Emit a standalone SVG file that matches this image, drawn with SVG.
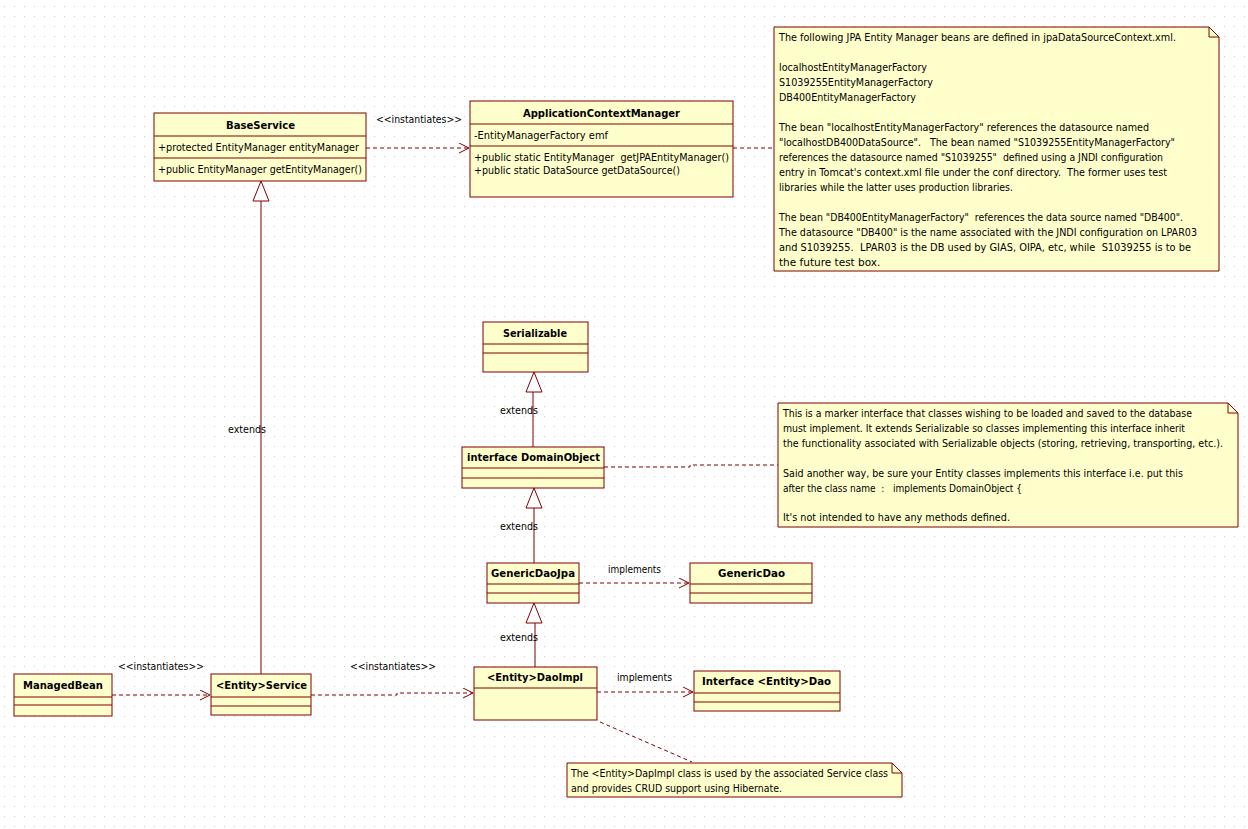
<svg xmlns="http://www.w3.org/2000/svg" width="1248" height="829" viewBox="0 0 1248 829">
<style>
text{font-family:"DejaVu Sans","Liberation Sans",sans-serif;font-size:10.5px;fill:#000}
.t{font-weight:bold}
.c{fill:#FFFFCC;stroke:#800000;stroke-width:1}
.s{stroke:#800000;stroke-width:1}
.d{fill:none;stroke:#800000;stroke-width:1;stroke-dasharray:4 3}
.g{fill:none;stroke:#800000;stroke-width:1}
.tri{fill:#fff;stroke:#800000;stroke-width:1}
</style>
<defs>
<pattern id="dots" width="10" height="10" patternUnits="userSpaceOnUse">
<rect x="4" y="6" width="1" height="1" fill="#c8c8c8"/>
</pattern>
<marker id="open" markerUnits="userSpaceOnUse" markerWidth="12" markerHeight="12" refX="10" refY="5" orient="auto">
<path d="M0,0 L10,5 L0,10" fill="none" stroke="#800000" stroke-width="1"/>
</marker>
</defs>
<rect width="1248" height="829" fill="#fff"/>
<rect width="1248" height="829" fill="url(#dots)"/>

<g id="connectors">
<line class="d" x1="366" y1="148" x2="469" y2="148" marker-end="url(#open)"/>
<text x="376" y="123" textLength="86" lengthAdjust="spacingAndGlyphs">&lt;&lt;instantiates&gt;&gt;</text>
<line class="d" x1="733" y1="148" x2="774" y2="148"/>
<line class="g" x1="261" y1="674" x2="261" y2="201"/>
<polygon class="tri" points="261,181 253,201 269,201"/>
<text x="228" y="433" textLength="38" lengthAdjust="spacingAndGlyphs">extends</text>
<line class="g" x1="533" y1="447" x2="533" y2="392"/>
<polygon class="tri" points="534,372 526,392 542,392"/>
<text x="500" y="414" textLength="38" lengthAdjust="spacingAndGlyphs">extends</text>
<line class="g" x1="534" y1="563" x2="534" y2="508"/>
<polygon class="tri" points="534,488 526,508 542,508"/>
<text x="500" y="530" textLength="38" lengthAdjust="spacingAndGlyphs">extends</text>
<line class="g" x1="535" y1="667" x2="535" y2="623"/>
<polygon class="tri" points="534,603 526,623 542,623"/>
<text x="500" y="641" textLength="38" lengthAdjust="spacingAndGlyphs">extends</text>
<polyline class="d" points="604,467 690,467 690,465 778,465"/>
<line class="d" x1="579" y1="583" x2="689" y2="583" marker-end="url(#open)"/>
<text x="608" y="573" textLength="53" lengthAdjust="spacingAndGlyphs">implements</text>
<line class="d" x1="597" y1="692" x2="693" y2="692" marker-end="url(#open)"/>
<text x="617" y="681" textLength="55" lengthAdjust="spacingAndGlyphs">implements</text>
<line class="d" x1="600" y1="722" x2="692" y2="762"/>
<line class="d" x1="112" y1="695" x2="210" y2="695" marker-end="url(#open)"/>
<text x="118" y="670" textLength="86" lengthAdjust="spacingAndGlyphs">&lt;&lt;instantiates&gt;&gt;</text>
<polyline class="d" points="311,695 397,695 397,693 473,693" marker-end="url(#open)"/>
<text x="350" y="670" textLength="86" lengthAdjust="spacingAndGlyphs">&lt;&lt;instantiates&gt;&gt;</text>
</g>

<g id="BaseService">
<rect class="c" x="154" y="113" width="212" height="68"/>
<line class="s" x1="154" y1="136" x2="366" y2="136"/>
<line class="s" x1="154" y1="158" x2="366" y2="158"/>
<text class="t" x="226" y="129" textLength="69" lengthAdjust="spacingAndGlyphs">BaseService</text>
<text x="158" y="151" textLength="201" lengthAdjust="spacingAndGlyphs">+protected EntityManager entityManager</text>
<text x="158" y="173" textLength="204" lengthAdjust="spacingAndGlyphs">+public EntityManager getEntityManager()</text>
</g>

<g id="ApplicationContextManager">
<rect class="c" x="470" y="101" width="263" height="96"/>
<line class="s" x1="470" y1="124" x2="733" y2="124"/>
<line class="s" x1="470" y1="146" x2="733" y2="146"/>
<text class="t" x="523" y="117" textLength="157" lengthAdjust="spacingAndGlyphs">ApplicationContextManager</text>
<text x="474" y="139" textLength="134" lengthAdjust="spacingAndGlyphs">-EntityManagerFactory emf</text>
<text x="474" y="161" textLength="255" lengthAdjust="spacingAndGlyphs" xml:space="preserve">+public static EntityManager  getJPAEntityManager()</text>
<text x="474" y="174" textLength="206" lengthAdjust="spacingAndGlyphs">+public static DataSource getDataSource()</text>
</g>

<g id="note1">
<path class="c" d="M774,27 H1209 L1219,37 V271 H774 Z"/>
<path class="g" d="M1209,27 V37 H1219"/>
<text x="779" y="41" textLength="397" lengthAdjust="spacingAndGlyphs">The following JPA Entity Manager beans are defined in jpaDataSourceContext.xml.</text>
<text x="779" y="71" textLength="148" lengthAdjust="spacingAndGlyphs">localhostEntityManagerFactory</text>
<text x="779" y="86" textLength="154" lengthAdjust="spacingAndGlyphs">S1039255EntityManagerFactory</text>
<text x="779" y="101" textLength="137" lengthAdjust="spacingAndGlyphs">DB400EntityManagerFactory</text>
<text x="779" y="131" textLength="370" lengthAdjust="spacingAndGlyphs">The bean "localhostEntityManagerFactory" references the datasource named</text>
<text x="779" y="146" textLength="396" lengthAdjust="spacingAndGlyphs" xml:space="preserve">"localhostDB400DataSource".   The bean named "S1039255EntityManagerFactory"</text>
<text x="779" y="161" textLength="384" lengthAdjust="spacingAndGlyphs" xml:space="preserve">references the datasource named "S1039255"  defined using a JNDI configuration</text>
<text x="779" y="176" textLength="388" lengthAdjust="spacingAndGlyphs" xml:space="preserve">entry in Tomcat's context.xml file under the conf directory.  The former uses test</text>
<text x="779" y="191" textLength="234" lengthAdjust="spacingAndGlyphs">libraries while the latter uses production libraries.</text>
<text x="779" y="221" textLength="404" lengthAdjust="spacingAndGlyphs" xml:space="preserve">The bean "DB400EntityManagerFactory"  references the data source named "DB400".</text>
<text x="779" y="236" textLength="418" lengthAdjust="spacingAndGlyphs">The datasource "DB400" is the name associated with the JNDI configuration on LPAR03</text>
<text x="779" y="251" textLength="412" lengthAdjust="spacingAndGlyphs" xml:space="preserve">and S1039255.  LPAR03 is the DB used by GIAS, OIPA, etc, while  S1039255 is to be</text>
<text x="779" y="266">the future test box.</text>
</g>

<g id="Serializable">
<rect class="c" x="483" y="322" width="105" height="50"/>
<line class="s" x1="483" y1="344" x2="588" y2="344"/>
<line class="s" x1="483" y1="353" x2="588" y2="353"/>
<text class="t" x="503" y="337" textLength="64" lengthAdjust="spacingAndGlyphs">Serializable</text>
</g>

<g id="DomainObject">
<rect class="c" x="462" y="447" width="142" height="41"/>
<line class="s" x1="462" y1="468" x2="604" y2="468"/>
<line class="s" x1="462" y1="478" x2="604" y2="478"/>
<text class="t" x="467" y="461" textLength="133" lengthAdjust="spacingAndGlyphs">interface DomainObject</text>
</g>

<g id="note2">
<path class="c" d="M778,403 H1228 L1238,413 V527 H778 Z"/>
<path class="g" d="M1228,403 V413 H1238"/>
<text x="783" y="417" textLength="409" lengthAdjust="spacingAndGlyphs">This is a marker interface that classes wishing to be loaded and saved to the database</text>
<text x="783" y="432" textLength="402" lengthAdjust="spacingAndGlyphs">must implement. It extends Serializable so classes implementing this interface inherit</text>
<text x="783" y="447" textLength="440" lengthAdjust="spacingAndGlyphs">the functionality associated with Serializable objects (storing, retrieving, transporting, etc.).</text>
<text x="783" y="477" textLength="400" lengthAdjust="spacingAndGlyphs">Said another way, be sure your Entity classes implements this interface i.e. put this</text>
<text x="783" y="492" textLength="239" lengthAdjust="spacingAndGlyphs" xml:space="preserve">after the class name  :   implements DomainObject {</text>
<text x="783" y="521" textLength="227" lengthAdjust="spacingAndGlyphs">It's not intended to have any methods defined.</text>
</g>

<g id="GenericDaoJpa">
<rect class="c" x="487" y="563" width="92" height="40"/>
<line class="s" x1="487" y1="584" x2="579" y2="584"/>
<line class="s" x1="487" y1="593" x2="579" y2="593"/>
<text class="t" x="491" y="577" textLength="84" lengthAdjust="spacingAndGlyphs">GenericDaoJpa</text>
</g>

<g id="GenericDao">
<rect class="c" x="690" y="563" width="122" height="40"/>
<line class="s" x1="690" y1="584" x2="812" y2="584"/>
<line class="s" x1="690" y1="593" x2="812" y2="593"/>
<text class="t" x="718" y="577" textLength="67" lengthAdjust="spacingAndGlyphs">GenericDao</text>
</g>

<g id="EntityDaoImpl">
<rect class="c" x="474" y="667" width="123" height="53"/>
<line class="s" x1="474" y1="688" x2="597" y2="688"/>
<text class="t" x="487" y="681" textLength="96" lengthAdjust="spacingAndGlyphs">&lt;Entity&gt;DaoImpl</text>
</g>

<g id="EntityDao">
<rect class="c" x="694" y="671" width="146" height="40"/>
<line class="s" x1="694" y1="693" x2="840" y2="693"/>
<line class="s" x1="694" y1="702" x2="840" y2="702"/>
<text class="t" x="702" y="685" textLength="129" lengthAdjust="spacingAndGlyphs">Interface &lt;Entity&gt;Dao</text>
</g>

<g id="ManagedBean">
<rect class="c" x="14" y="674" width="98" height="42"/>
<line class="s" x1="14" y1="697" x2="112" y2="697"/>
<line class="s" x1="14" y1="705" x2="112" y2="705"/>
<text class="t" x="23" y="689" textLength="80" lengthAdjust="spacingAndGlyphs">ManagedBean</text>
</g>

<g id="EntityService">
<rect class="c" x="211" y="674" width="100" height="41"/>
<line class="s" x1="211" y1="697" x2="311" y2="697"/>
<line class="s" x1="211" y1="706" x2="311" y2="706"/>
<text class="t" x="216" y="689" textLength="91" lengthAdjust="spacingAndGlyphs">&lt;Entity&gt;Service</text>
</g>

<g id="note3">
<path class="c" d="M567,763 H892 L902,773 V797 H567 Z"/>
<path class="g" d="M892,763 V773 H902"/>
<text x="571" y="777" textLength="317" lengthAdjust="spacingAndGlyphs">The &lt;Entity&gt;DapImpl class is used by the associated Service class</text>
<text x="571" y="792" textLength="211" lengthAdjust="spacingAndGlyphs">and provides CRUD support using Hibernate.</text>
</g>
</svg>
